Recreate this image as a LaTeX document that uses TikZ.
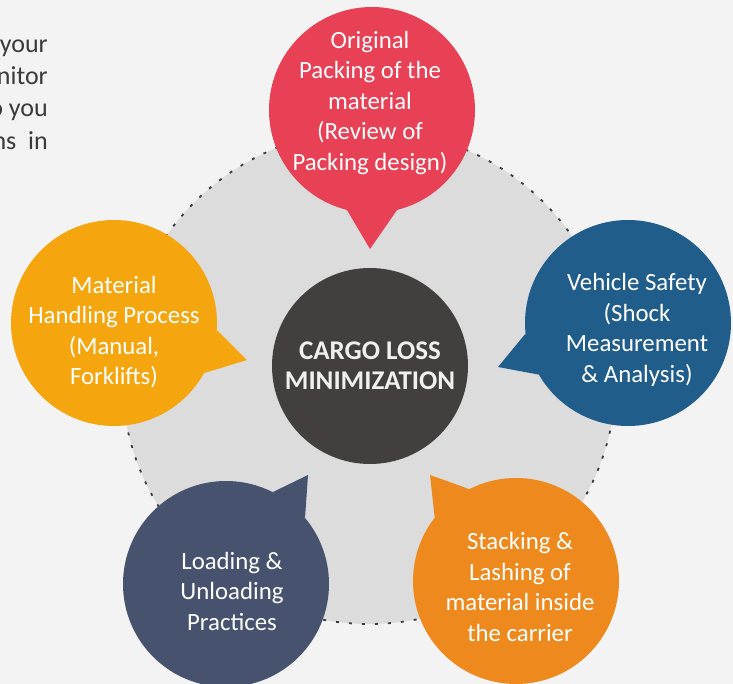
\documentclass[tikz,border=0pt]{standalone}
\usepackage{fontspec}
\setmainfont{Carlito}
\usetikzlibrary{shapes,arrows,positioning,calc}

\definecolor{pagegray}{HTML}{F3F3F3}
\definecolor{ringgray}{HTML}{DCDCDC}
\definecolor{dotgray}{HTML}{3C3C3C}
\definecolor{hubgray}{HTML}{433F3E}
\definecolor{packred}{HTML}{E84155}
\definecolor{safeblue}{HTML}{215D8B}
\definecolor{handyellow}{HTML}{F5A60E}
\definecolor{loadslate}{HTML}{46526E}
\definecolor{stackorange}{HTML}{EE8A1D}
\definecolor{sidegray}{HTML}{3A3A3A}

\begin{document}
\begin{tikzpicture}[
    x=1pt, y=-1pt,
    bubble/.style = {circle, minimum size=206pt, inner sep=0pt},
    bubbletext/.style = {text=white, align=center, font=\fontsize{24.8}{30.5}\selectfont},
    hub/.style = {circle, fill=hubgray, minimum size=196pt, inner sep=0pt, text=white!94!black, align=center, font=\bfseries\fontsize{27}{30}\selectfont},
    sidetext/.style = {anchor=base east, inner sep=0pt, text=sidegray, font=\fontsize{26}{30}\selectfont}
]
    \useasboundingbox (0,0) rectangle (733,684);
    \clip (0,0) rectangle (733,684);
    \fill[pagegray] (0,0) rectangle (733,684);
    % Cut-off paragraph on the left
    \node[sidetext] (side0) at (38,-4) {g};
    \node[sidetext] (side1) at (48,53) {your};
    \node[sidetext] (side2) at (48,85) {nitor};
    \node[sidetext] (side3) at (48,117) {o you};
    \node[sidetext] (side4) at (48,150) {ns\ \ in};
    % Dotted ring behind everything
    \node[circle, fill=ringgray, draw=dotgray, line width=1.8pt, dash pattern=on 3pt off 10pt, minimum size=494pt, inner sep=0pt] (ring) at (369,377) {};
    % Centre
    \node[hub] (hub) at (370,366) {CARGO LOSS\\MINIMIZATION};
    % Bubbles
    \node[bubble, fill=packred] (pack) at (372,110) {};
    \node[bubble, fill=safeblue] (safety) at (628,323) {};
    \node[bubble, fill=handyellow] (handling) at (114,323) {};
    \node[bubble, fill=loadslate] (loading) at (226,584) {};
    \node[bubble, fill=stackorange] (stacking) at (516,581) {};
    % Tails pointing to the centre
    \coordinate (packtip) at (370,249);
    \coordinate (safetytip) at (498,367);
    \coordinate (handlingtip) at (247,360);
    \coordinate (loadingtip) at (308,475);
    \coordinate (stackingtip) at (430,475);
    \fill[packred] (pack.256) -- (packtip) -- (pack.284) -- cycle;
    \fill[safeblue] (safety.186) -- (safetytip) -- (safety.210) -- cycle;
    \fill[handyellow] (handling.356) -- (handlingtip) -- (handling.331) -- cycle;
    \fill[loadslate] (loading.63) -- (loadingtip) -- (loading.40) -- cycle;
    \fill[stackorange] (stacking.117) -- (stackingtip) -- (stacking.142) -- cycle;
    % Texts
    \node[bubbletext] (packtxt) at (370,103) {Original\\Packing of the\\material\\(Review of\\Packing design)};
    \node[bubbletext] (safetytxt) at (637,330) {Vehicle Safety\\(Shock\\Measurement\\\& Analysis)};
    \node[bubbletext] (handlingtxt) at (114,332) {Material\\Handling Process\\(Manual,\\Forklifts)};
    \node[bubbletext] (loadingtxt) at (232,591) {Loading \&\\Unloading\\Practices};
    \node[bubbletext] (stackingtxt) at (520,587) {Stacking \&\\Lashing of\\material inside\\the carrier};
\end{tikzpicture}
\end{document}
